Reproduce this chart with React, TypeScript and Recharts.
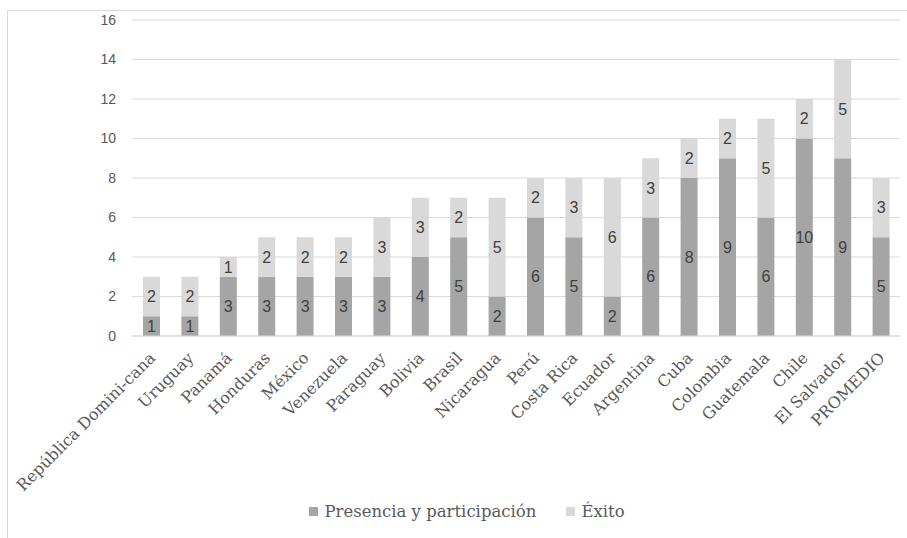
import { BarChart, Bar, XAxis, YAxis, CartesianGrid, Legend, LabelList } from "recharts"

const COUNTRIES = [
  "República Domini-cana",
  "Uruguay",
  "Panamá",
  "Honduras",
  "México",
  "Venezuela",
  "Paraguay",
  "Bolivia",
  "Brasil",
  "Nicaragua",
  "Perú",
  "Costa Rica",
  "Ecuador",
  "Argentina",
  "Cuba",
  "Colombia",
  "Guatemala",
  "Chile",
  "El Salvador",
  "PROMEDIO",
]

const PRESENCIA = [1, 1, 3, 3, 3, 3, 3, 4, 5, 2, 6, 5, 2, 6, 8, 9, 6, 10, 9, 5]
const EXITO = [2, 2, 1, 2, 2, 2, 3, 3, 2, 5, 2, 3, 6, 3, 2, 2, 5, 2, 5, 3]

const Y_TICKS = [0, 2, 4, 6, 8, 10, 12, 14, 16]

const SERIES = [
  { key: "presencia", name: "Presencia y participación", color: "#a5a5a5" },
  { key: "exito", name: "Éxito", color: "#d9d9d9" },
]

const data = COUNTRIES.map((pais, i) => ({
  pais,
  presencia: PRESENCIA[i],
  exito: EXITO[i],
}))

const SERIF = "'DejaVu Serif', serif"
const SANS = "'Liberation Sans', Arial, sans-serif"

function CountryTick({ x, y, payload }: any) {
  return (
    <g transform={`translate(${x + 5},${y + 15})`}>
      <text
        x={0}
        y={0}
        textAnchor="end"
        transform="rotate(-45)"
        fontFamily={SERIF}
        fontSize={16}
        fill="#595959"
      >
        {payload.value}
      </text>
    </g>
  )
}

function LegendContent() {
  return (
    <div
      style={{
        display: "flex",
        justifyContent: "center",
        gap: 30,
        fontFamily: SERIF,
        fontSize: 16.5,
        color: "#595959",
        paddingLeft: 26,
      }}
    >
      {SERIES.map((s) => (
        <span key={s.key} style={{ display: "flex", alignItems: "center" }}>
          <span style={{ width: 9, height: 9, background: s.color, marginRight: 6 }} />
          {s.name}
        </span>
      ))}
    </div>
  )
}

export default function App() {
  return (
    <div
      style={{
        position: "absolute",
        left: 7,
        top: 10,
        width: 910,
        height: 540,
        borderLeft: "1px solid #d9d9d9",
        borderTop: "1px solid #d9d9d9",
        background: "#fff",
      }}
    >
      <BarChart
        width={899}
        height={527}
        data={data}
        margin={{ top: 9, right: 7, bottom: 6, left: 0 }}
        barSize={17}
      >
        <CartesianGrid vertical={false} stroke="#d9d9d9" />
        <XAxis
          dataKey="pais"
          interval={0}
          height={166}
          tickLine={false}
          axisLine={{ stroke: "#d9d9d9" }}
          tick={<CountryTick />}
        />
        <YAxis
          domain={[0, 16]}
          ticks={Y_TICKS}
          width={124}
          axisLine={false}
          tickLine={false}
          tickMargin={10}
          tick={{ fontFamily: SANS, fontSize: 14, fill: "#595959" }}
        />
        <Legend verticalAlign="bottom" height={30} content={<LegendContent />} />
        {SERIES.map((s) => (
          <Bar key={s.key} dataKey={s.key} name={s.name} stackId="a" fill={s.color} isAnimationActive={false}>
            <LabelList
              dataKey={s.key}
              position="center"
              fill="#404040"
              style={{ fontFamily: SANS, fontSize: 16 }}
            />
          </Bar>
        ))}
      </BarChart>
    </div>
  )
}
